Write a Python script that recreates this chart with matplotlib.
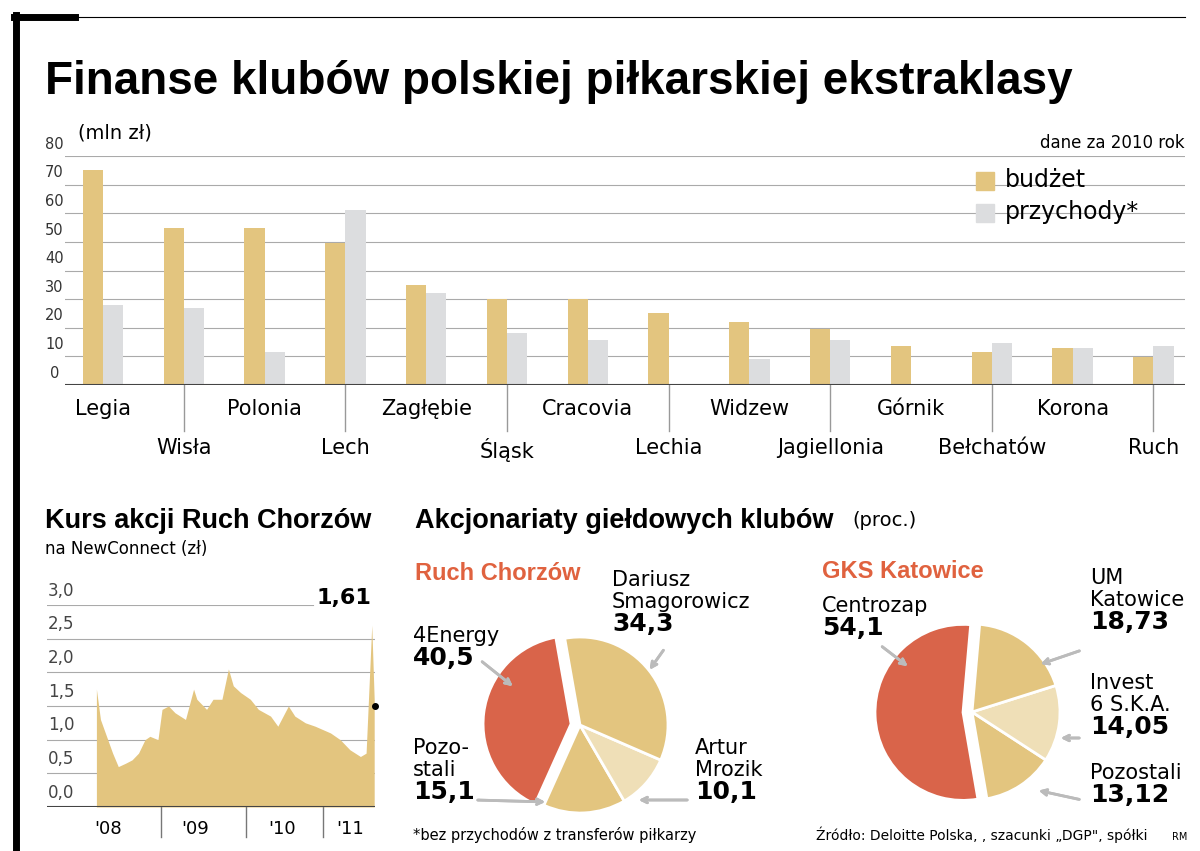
import matplotlib.pyplot as plt
from matplotlib.lines import Line2D
from matplotlib.patches import Rectangle

W, H = 1200, 851
GOLD = '#e3c57f'
LIGHT = '#efdfb7'
GRAY = '#dcdddf'
RED = '#d9644a'
ORANGE = '#e0623f'
COND = ['Liberation Sans', 'DejaVu Sans']

# bar chart data (mln zł)
clubs = ['Legia', 'Wisła', 'Polonia', 'Lech', 'Zagłębie', 'Śląsk', 'Cracovia',
         'Lechia', 'Widzew', 'Jagiellonia', 'Górnik', 'Bełchatów', 'Korona', 'Ruch']
budzet = [75, 55, 55, 49.5, 35, 30, 30, 25, 22, 19.5, 13.6, 11.5, 13, 9.8]
przychody = [28, 27, 11.5, 61, 32, 18, 15.7, 0, 9, 15.7, 0, 14.6, 13, 13.6]
bar_ticks = [0, 10, 20, 30, 40, 50, 60, 70, 80]

# stock price of Ruch Chorzów (fractional year, zł)
kurs_t = [2008.20, 2008.25, 2008.31, 2008.40, 2008.47, 2008.56, 2008.64, 2008.72, 2008.80,
          2008.86, 2008.96, 2009.01, 2009.09, 2009.17, 2009.30, 2009.40, 2009.44, 2009.48,
          2009.56, 2009.64, 2009.75, 2009.83, 2009.89, 2009.98, 2010.10, 2010.20, 2010.35,
          2010.44, 2010.57, 2010.65, 2010.78, 2010.90, 2011.09, 2011.21, 2011.33, 2011.46,
          2011.53, 2011.60, 2011.63]
kurs_v = [1.75, 1.3, 1.1, 0.8, 0.6, 0.65, 0.7, 0.8, 1.0, 1.05, 1.0, 1.45, 1.5, 1.4,
          1.3, 1.75, 1.6, 1.55, 1.45, 1.6, 1.6, 2.05, 1.8, 1.7, 1.6, 1.45, 1.35, 1.2,
          1.5, 1.35, 1.25, 1.2, 1.1, 1.0, 0.85, 0.75, 0.8, 2.7, 1.6]
kurs_ticks = [0.0, 0.5, 1.0, 1.5, 2.0, 2.5, 3.0]
years = ["'08", "'09", "'10", "'11"]

# shareholders
ruch_names = ['4Energy', 'Pozostali', 'Artur Mrozik', 'Dariusz Smagorowicz']
ruch_vals = [40.5, 15.1, 10.1, 34.3]
gks_names = ['Centrozap', 'Pozostali', 'Invest 6 S.K.A.', 'UM Katowice']
gks_vals = [54.1, 13.12, 14.05, 18.73]


def box(l, t, r, b):
    return [l / W, 1 - b / H, (r - l) / W, (b - t) / H]


def ftext(x, y, s, **kw):
    fig.text(x / W, 1 - y / H, s, **kw)


fig = plt.figure(figsize=(12, 8.51), dpi=100)

# frame
fig.add_artist(Line2D([16 / W, 16 / W], [0, 1 - 15 / H], color='black', lw=5))
fig.add_artist(Line2D([14 / W, 75 / W], [1 - 17 / H] * 2, color='black', lw=5))
fig.add_artist(Line2D([75 / W, 1185 / W], [1 - 17 / H] * 2, color='black', lw=0.8))

ftext(45, 82, 'Finanse klubów polskiej piłkarskiej ekstraklasy', fontsize=33,
      fontweight='bold', family=COND, va='center')

# ---- bar chart
ax = fig.add_axes(box(65, 156, 1185, 385))
xs = list(range(len(clubs)))
bw = 0.25
ax.bar([x - bw / 2 for x in xs], budzet, bw, color=GOLD, zorder=2)
ax.bar([x + bw / 2 for x in xs], przychody, bw, color=GRAY, zorder=2)
ax.set_xlim(-0.47, 13.39)
ax.set_ylim(0, 80)
for v in bar_ticks:
    ax.axhline(v, color='#aaaaaa', lw=0.8, zorder=1)
    ax.text(-0.6, v + 1.5, str(v), ha='center', va='bottom', fontsize=10.5,
            color='#333333', clip_on=False)
ax.axhline(0, color='#444444', lw=1.5, zorder=3)
ax.axis('off')
for i, c in enumerate(clubs):
    if i % 2 == 0:
        ax.text(i, -5, c, ha='center', va='top', fontsize=15)
    else:
        ax.plot([i, i], [0, -16], color='#999999', lw=1, clip_on=False)
        ax.text(i, -18.5, c, ha='center', va='top', fontsize=15)
ftext(78, 133, '(mln zł)', fontsize=14, va='center')
ftext(1185, 143, 'dane za 2010 rok', fontsize=12, ha='right', va='center')
fig.add_artist(Rectangle((976 / W, 1 - 190 / H), 18 / W, 18 / H, color=GOLD))
fig.add_artist(Rectangle((976 / W, 1 - 222 / H), 18 / W, 18 / H, color=GRAY))
ftext(1005, 180, 'budżet', fontsize=17, va='center')
ftext(1005, 212, 'przychody*', fontsize=17, va='center')

# ---- stock chart
ftext(45, 521, 'Kurs akcji Ruch Chorzów', fontsize=19.5, fontweight='bold', family=COND, va='center')
ftext(45, 549, 'na NewConnect (zł)', fontsize=12, va='center')
ax2 = fig.add_axes(box(47, 605, 375, 807))
ax2.fill_between(kurs_t, kurs_v, color=GOLD, lw=0, zorder=2)
ax2.set_xlim(2007.59, 2011.64)
ax2.set_ylim(0, 3)
for v in kurs_ticks:
    ax2.axhline(v, color='#aaaaaa', lw=0.8, zorder=1, xmax=0.81 if v == 3 else 1)
    ax2.text(2007.6, v + 0.08, f'{v:.1f}'.replace('.', ','), fontsize=12,
             va='bottom', color='#444444')
ax2.axhline(0, color='#444444', lw=1.5, zorder=3)
ax2.plot([2011.64], [1.5], 'o', color='black', ms=4, clip_on=False, zorder=4)
ax2.text(2011.60, 2.95, '1,61', fontsize=16, fontweight='bold', ha='right', va='bottom')
ax2.axis('off')
for yr in [2009.0, 2010.05, 2011.0]:
    ax2.plot([yr, yr], [0, -0.45], color='#777777', lw=1, clip_on=False)
for yr, lab in zip([2008.35, 2009.42, 2010.49, 2011.33], years):
    ax2.text(yr, -0.2, lab, fontsize=13, ha='center', va='top')

# ---- pies
ftext(415, 521, 'Akcjonariaty giełdowych klubów', fontsize=19.5, fontweight='bold', family=COND, va='center')
ftext(852, 521, '(proc.)', fontsize=14, va='center')


def pie(cx, cy, r, vals, start):
    a = fig.add_axes(box(cx - r - 12, cy - r - 12, cx + r + 12, cy + r + 12))
    a.pie(vals, colors=[RED, GOLD, LIGHT, GOLD], startangle=start, counterclock=True,
          explode=[0.09, 0, 0, 0], radius=0.88,
          wedgeprops=dict(edgecolor='white', linewidth=2))
    a.set_xlim(-1, 1)
    a.set_ylim(-1, 1)
    a.set_aspect('equal')


pie(580, 725, 88, ruch_vals, 100)
pie(972, 712, 88, gks_vals, 85)

arrow = dict(arrowstyle='->', color='#bbbbbb', lw=2)

ftext(415, 574, 'Ruch Chorzów', fontsize=17, fontweight='bold', family=COND, color=ORANGE, va='center')
ftext(822, 572, 'GKS Katowice', fontsize=17, fontweight='bold', family=COND, color=ORANGE, va='center')


def label(x, y, name, val):
    ftext(x, y, name, fontsize=15, va='bottom', linespacing=1.1)
    ftext(x, y, val, fontsize=18, fontweight='bold', va='top')


label(413, 646, '4Energy', '40,5')
label(612, 612, 'Dariusz\nSmagorowicz', '34,3')
label(413, 780, 'Pozo-\nstali', '15,1')
label(695, 780, 'Artur\nMrozik', '10,1')
label(822, 616, 'Centrozap', '54,1')
label(1090, 610, 'UM\nKatowice', '18,73')
label(1090, 715, 'Invest\n6 S.K.A.', '14,05')
label(1090, 783, 'Pozostali', '13,12')


def arr(x0, y0, x1, y1):
    fig.add_artist(plt.annotate('', xy=(x1 / W, 1 - y1 / H), xycoords='figure fraction',
                                xytext=(x0 / W, 1 - y0 / H), textcoords='figure fraction',
                                arrowprops=arrow))


arr(480, 660, 515, 688)
arr(665, 648, 648, 672)
arr(475, 800, 548, 802)
arr(690, 800, 636, 800)
arr(880, 645, 910, 668)
arr(1082, 650, 1038, 665)
arr(1082, 738, 1058, 738)
arr(1082, 800, 1036, 790)

ftext(413, 835, '*bez przychodów z transferów piłkarzy', fontsize=10.5, va='center')
ftext(816, 835, 'Źródło: Deloitte Polska, , szacunki „DGP", spółki', fontsize=10, va='center')
ftext(1172, 837, 'RM', fontsize=7, va='center')

fig.savefig('out.png', dpi=100)
